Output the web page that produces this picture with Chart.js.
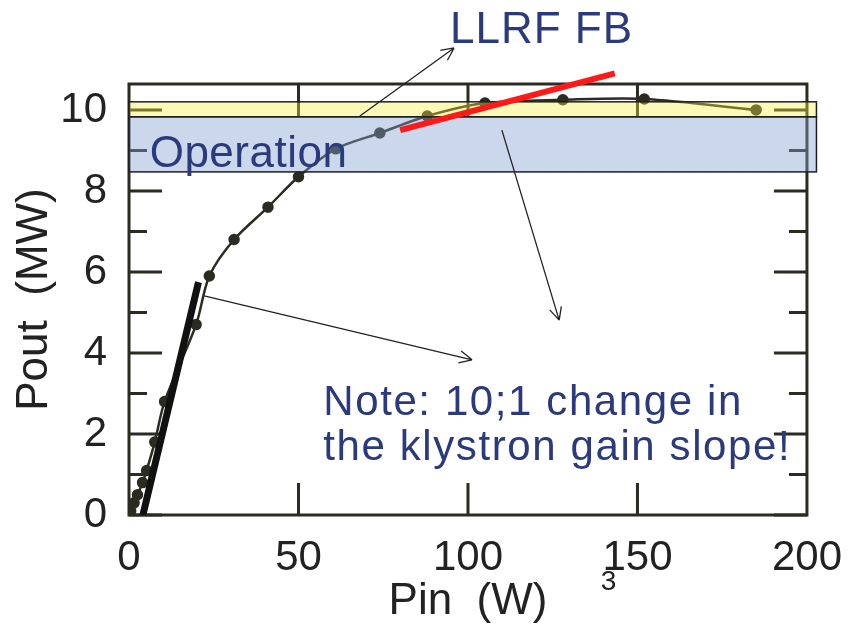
<!DOCTYPE html>
<html>
<head>
<meta charset="utf-8">
<script src="https://cdn.jsdelivr.net/npm/chart.js@4.4.1/dist/chart.umd.min.js"></script>
<style>
  html, body { margin: 0; padding: 0; background: #fff; }
  canvas { display: block; }
</style>
</head>
<body>
<canvas id="klystronChart" width="852" height="628"></canvas>
<script>
// measured klystron transfer curve
const pinW = [0.5, 1.5, 2.5, 4, 5.2, 7.6, 10.5, 19.8, 23.7, 31, 41, 50, 61, 74, 88, 105, 128, 152, 185];
const poutMW = [0.1, 0.3, 0.5, 0.8, 1.1, 1.8, 2.8, 4.7, 5.9, 6.8, 7.6, 8.35, 9.04, 9.43, 9.85, 10.17, 10.25, 10.27, 10.0];

// slope lines (small signal / near saturation)
const lowSlopeX = [4.1, 20.5];
const lowSlopeY = [0, 5.75];
const highSlopeX = [80, 143.3];
const highSlopeY = [9.5, 10.9];

// shaded bands (Pout range) and how far right they reach
const llrfBand = [9.83, 10.2];
const operationBand = [8.47, 9.83];
const bandX = [0, 202.8];

// axis ticks
const xTicks = [0, 50, 100, 150, 200];
const xInnerTicks = [50, 100, 150];
const yMajor = [0, 2, 4, 6, 8, 10];
const yMinor = [1, 3, 5, 7, 9];

// annotation arrows [x0, y0, x1, y1] in data units
const arrows = [
    [68.1, 9.85, 95.9, 11.53],
    [110, 9.5, 126.9, 4.81],
    [22.2, 5.41, 101.2, 3.83]
];

const ink = '#2b2b22';
const navy = '#2a3a7c';
const fontFam = '"Liberation Sans", Arial, sans-serif';

function pts(xs, ys) {
    return xs.map((x, i) => ({ x: x, y: ys[i] }));
}

let bandsDone = false;

const framePlugin = {
    id: 'frame',
    beforeDatasetsDraw(chart) {
        const { ctx, chartArea: a, scales: { x, y } } = chart;
        bandsDone = false;
        ctx.save();
        ctx.strokeStyle = ink;
        ctx.lineWidth = 3;
        ctx.strokeRect(a.left, a.top, a.right - a.left, a.bottom - a.top);
        ctx.beginPath();
        yMajor.concat(yMinor).forEach(v => {
            const len = yMajor.includes(v) ? 33 : 18;
            const py = y.getPixelForValue(v);
            ctx.moveTo(a.left, py); ctx.lineTo(a.left + len, py);
            ctx.moveTo(a.right, py); ctx.lineTo(a.right - len, py);
        });
        xInnerTicks.forEach(v => {
            const px = x.getPixelForValue(v);
            ctx.moveTo(px, a.top); ctx.lineTo(px, a.top + 33);
            ctx.moveTo(px, a.bottom); ctx.lineTo(px, a.bottom - 32);
        });
        ctx.stroke();
        ctx.restore();
    },
    beforeDatasetDraw(chart, args) {
        if (args.index !== 0 || bandsDone) return;
        bandsDone = true;
        const { ctx, scales: { x, y } } = chart;
        const x0 = x.getPixelForValue(bandX[0]);
        const x1 = x.getPixelForValue(bandX[1]);
        ctx.save();
        ctx.lineWidth = 1.5;
        ctx.strokeStyle = '#1e1e1e';
        [[llrfBand, 'rgba(245,240,60,0.38)'], [operationBand, 'rgba(130,160,205,0.42)']].forEach(([b, c]) => {
            const yt = y.getPixelForValue(b[1]);
            const yb = y.getPixelForValue(b[0]);
            ctx.fillStyle = c;
            ctx.fillRect(x0, yt, x1 - x0, yb - yt);
            ctx.strokeRect(x0, yt, x1 - x0, yb - yt);
        });
        ctx.restore();
    },
    afterDraw(chart) {
        const { ctx, scales: { x, y } } = chart;
        ctx.save();
        // arrows
        ctx.strokeStyle = '#222';
        ctx.lineWidth = 1.3;
        arrows.forEach(([ax, ay, bx, by]) => {
            const p0 = [x.getPixelForValue(ax), y.getPixelForValue(ay)];
            const p1 = [x.getPixelForValue(bx), y.getPixelForValue(by)];
            const ang = Math.atan2(p1[1] - p0[1], p1[0] - p0[0]);
            ctx.beginPath();
            ctx.moveTo(p0[0], p0[1]);
            ctx.lineTo(p1[0], p1[1]);
            [0.45, -0.45].forEach(d => {
                ctx.moveTo(p1[0], p1[1]);
                ctx.lineTo(p1[0] - 14 * Math.cos(ang + d), p1[1] - 14 * Math.sin(ang + d));
            });
            ctx.stroke();
        });
        // texts
        ctx.textBaseline = 'alphabetic';
        ctx.fillStyle = navy;
        ctx.font = '44px ' + fontFam;
        ctx.letterSpacing = '1px';
        ctx.fillText('LLRF FB', x.getPixelForValue(94.7), y.getPixelForValue(11.65));
        ctx.letterSpacing = '0.5px';
        ctx.fillText('Operation', x.getPixelForValue(6.1), y.getPixelForValue(8.59));
        ctx.font = '42px ' + fontFam;
        ctx.letterSpacing = '1.6px';
        ctx.fillText('Note: 10;1 change in', x.getPixelForValue(57.3), y.getPixelForValue(2.47));
        ctx.fillText('the klystron gain slope!', x.getPixelForValue(57.3), y.getPixelForValue(1.36));
        ctx.letterSpacing = '0px';
        ctx.fillStyle = '#222';
        ctx.font = '28px ' + fontFam;
        ctx.textAlign = 'center';
        ctx.fillText('3', x.getPixelForValue(141.5), y.getPixelForValue(-1.85));
        ctx.restore();
    }
};

new Chart(document.getElementById('klystronChart'), {
    type: 'scatter',
    data: {
        datasets: [
            {
                label: 'slope near saturation',
                data: pts(highSlopeX, highSlopeY),
                showLine: true,
                borderColor: '#ff1a1a',
                borderWidth: 6,
                pointRadius: 0,
                clip: false
            },
            {
                label: 'small signal slope',
                data: pts(lowSlopeX, lowSlopeY),
                showLine: true,
                borderColor: '#111',
                borderWidth: 7,
                pointRadius: 0
            },
            {
                label: 'Pout',
                data: pts(pinW, poutMW),
                showLine: true,
                borderColor: ink,
                backgroundColor: ink,
                borderWidth: 2.5,
                pointRadius: 4.5,
                tension: 0.3
            }
        ]
    },
    options: {
        responsive: false,
        animation: false,
        layout: { padding: { top: 84, right: 39, left: 0, bottom: 0 } },
        plugins: { legend: { display: false }, tooltip: { enabled: false } },
        scales: {
            x: {
                type: 'linear',
                min: 0,
                max: 200,
                grid: { display: false },
                border: { display: false },
                afterBuildTicks: s => { s.ticks = xTicks.map(v => ({ value: v })); },
                afterFit: s => { s.height = 113; },
                ticks: { color: '#222', padding: 10, maxRotation: 0, font: { family: fontFam, size: 42 } },
                title: { display: true, text: 'Pin  (W)', color: '#222', padding: 0, font: { family: fontFam, size: 44 } }
            },
            y: {
                min: 0,
                max: 10.64,
                grid: { display: false },
                border: { display: false },
                afterBuildTicks: s => { s.ticks = yMajor.map(v => ({ value: v })); },
                afterFit: s => { s.width = 129; },
                ticks: { color: '#222', padding: 14, font: { family: fontFam, size: 42 } },
                title: { display: true, text: 'Pout  (MW)', color: '#222', padding: { top: 8, bottom: 0 }, font: { family: fontFam, size: 44 } }
            }
        }
    },
    plugins: [framePlugin]
});
</script>
</body>
</html>
